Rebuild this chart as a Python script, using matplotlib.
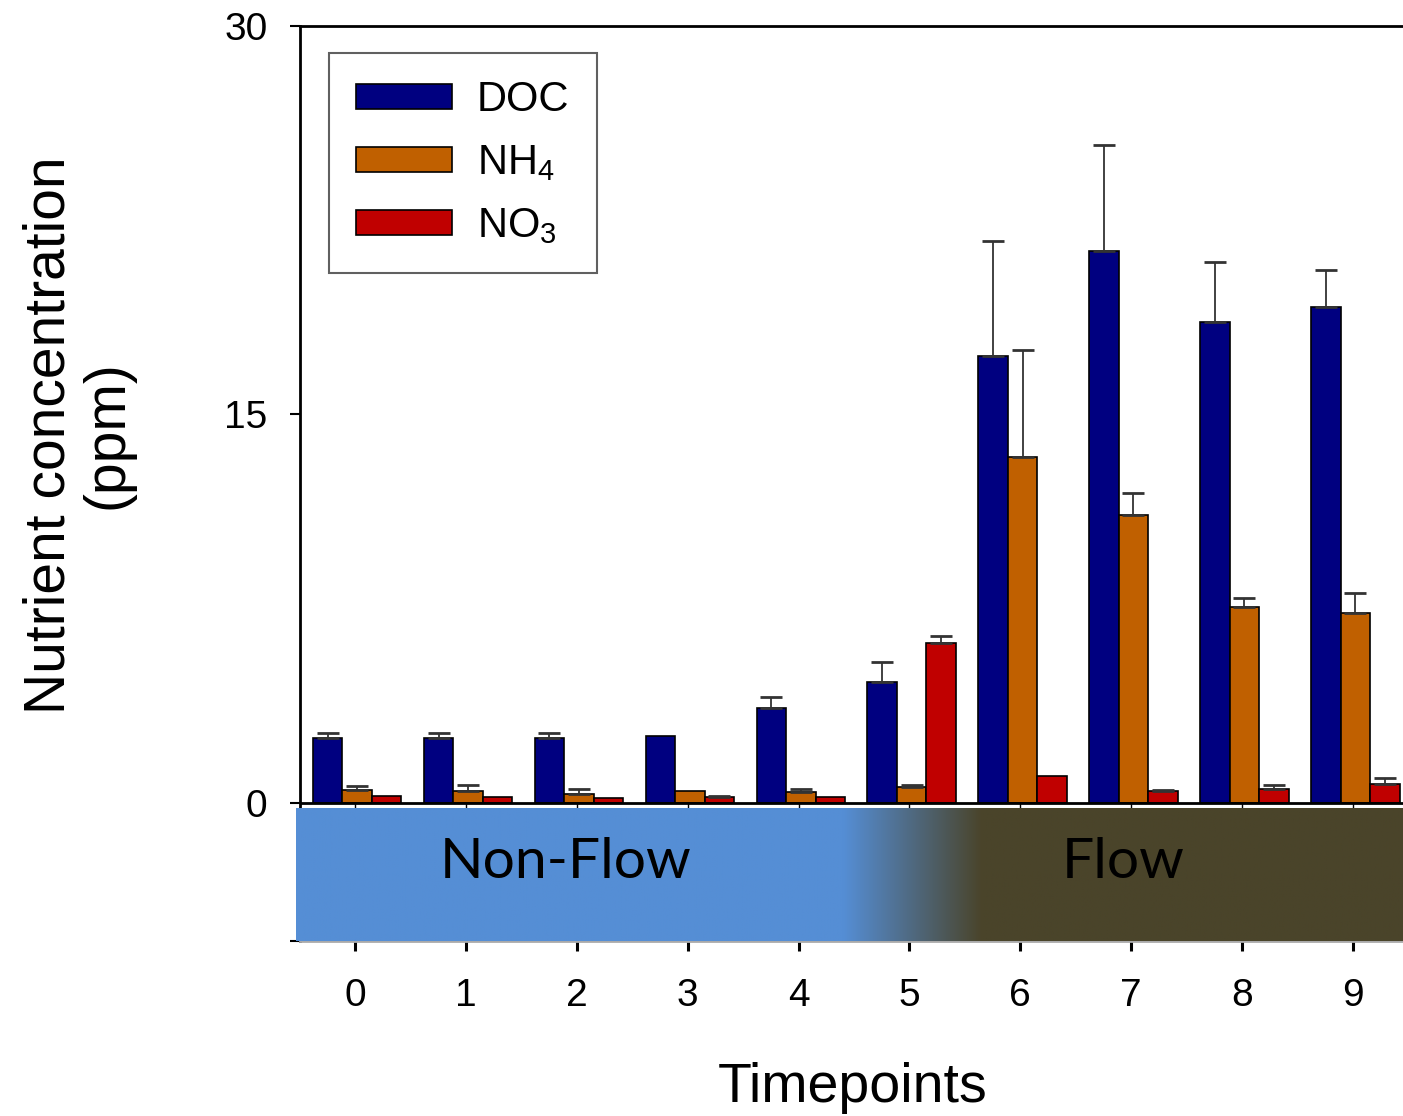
import matplotlib.pyplot as plt
import numpy as np
from matplotlib.colors import to_rgb

plt.rcParams.update({
    "font.family": ["Liberation Sans", "DejaVu Sans"],
    "mathtext.fontset": "custom",
    "mathtext.rm": "Liberation Sans",
    "mathtext.it": "Liberation Sans:italic",
})

# data
timepoints = np.arange(10)
tick_labels = [str(t) for t in timepoints]

doc = [2.48, 2.48, 2.48, 2.58, 3.64, 4.65, 17.24, 21.30, 18.56, 19.14]
doc_err = [0.22, 0.22, 0.22, 0.0, 0.44, 0.77, 4.45, 4.09, 2.32, 1.42]
nh4 = [0.48, 0.45, 0.33, 0.44, 0.42, 0.59, 13.35, 11.10, 7.54, 7.33]
nh4_err = [0.16, 0.22, 0.20, 0.0, 0.09, 0.09, 4.15, 0.86, 0.37, 0.77]
no3 = [0.26, 0.20, 0.18, 0.22, 0.22, 6.16, 1.02, 0.45, 0.54, 0.71]
no3_err = [0.0, 0.0, 0.0, 0.05, 0.0, 0.27, 0.0, 0.05, 0.13, 0.22]

series = [("DOC", doc, doc_err, "#000080"),
          ("NH$_4$", nh4, nh4_err, "#C06000"),
          ("NO$_3$", no3, no3_err, "#C00000")]

bar_width = 0.266
ymin, ymax = -5.33, 30

fig = plt.figure(figsize=(14.03, 11.16), dpi=100)
W, H = 1403, 1116
ax = fig.add_axes([299.5 / W, 1 - 940.5 / H, 1109 / W, (940.5 - 26) / H])

bars = []
for i, (name, vals, err, col) in enumerate(series):
    x = timepoints + (i - 1) * bar_width + 0.02
    b = ax.bar(x, vals, width=bar_width, color=col, edgecolor="black",
               linewidth=1.2, label=name, zorder=2)
    bars.append(b)
    err = np.array(err)
    has = err > 0
    ax.errorbar(x[has], np.array(vals)[has],
                yerr=[np.zeros(has.sum()), err[has]], fmt="none",
                ecolor="#333333", elinewidth=1.3, capsize=8, capthick=2,
                zorder=3)

# zero line with small ticks
ax.axhline(0, color="black", lw=2, zorder=3)
ax.plot(timepoints, np.zeros(len(timepoints)), ls="none", marker=3,
        ms=4, mew=1, color="black", zorder=3)

# Non-Flow / Flow band with a gradient
band_left, band_right = -0.532, 9.5
grad_start, grad_end = 4.4, 5.65
xs = np.linspace(band_left, band_right, 1500)
t = np.clip((xs - grad_start) / (grad_end - grad_start), 0, 1)
c0 = np.array(to_rgb("#558ED5"))
c1 = np.array(to_rgb("#4A442A"))
img = c0[None, :] * (1 - t[:, None]) + c1[None, :] * t[:, None]
im = ax.imshow(img[None, :, :], extent=[band_left, band_right, ymin, -0.2],
               aspect="auto", zorder=4, interpolation="bilinear")
im.set_clip_on(False)

ax.text(1.90, -2.92, "Non-Flow", fontsize=41, family=["Lato", "DejaVu Sans"],
        ha="center", va="baseline", zorder=5)
ax.text(6.93, -2.92, "Flow", fontsize=41, family=["Lato", "DejaVu Sans"],
        ha="center", va="baseline", zorder=5)

ax.set_xlim(-0.5, 9.5)
ax.set_ylim(ymin, ymax)
ax.set_xticks(timepoints, tick_labels)
ax.set_yticks([ymin, 0, 15, 30], ["", "0", "15", "30"])
ax.tick_params(axis="x", direction="out", length=7, width=2.2, pad=20,
               labelsize=28)
ax.tick_params(axis="y", direction="out", length=7, width=1.5, pad=16,
               labelsize=28)

for s in ["top", "left", "right"]:
    ax.spines[s].set_linewidth(2)
ax.spines["bottom"].set_color("#aaaaaa")
ax.spines["bottom"].set_linewidth(2)

leg = ax.legend(handles=bars, loc="upper left",
                bbox_to_anchor=(329 / W, 1 - 53 / H),
                bbox_transform=fig.transFigure, borderaxespad=0,
                fontsize=30, fancybox=False, edgecolor="#606060",
                framealpha=1, handlelength=2.3, handleheight=0.55,
                handletextpad=0.6, borderpad=0.65, labelspacing=0.55)
leg.get_frame().set_linewidth(1.5)
leg.set_zorder(6)

fig.text(78.5 / W, 1 - 435 / H, "Nutrient concentration\n(ppm)", rotation=90,
         fontsize=41, ha="center", va="center", multialignment="center",
         linespacing=1.1)
fig.text(853 / W, 1 - 1102 / H, "Timepoints", fontsize=40, ha="center",
         va="baseline")

plt.savefig("out.png", dpi=100)
